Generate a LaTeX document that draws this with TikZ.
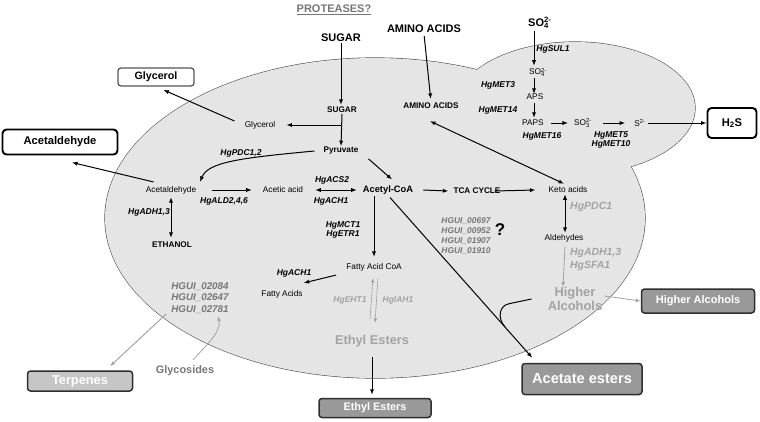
\documentclass[tikz,border=0pt]{standalone}
\usepackage{fontspec}
\setmainfont{Liberation Sans}
\usetikzlibrary{arrows.meta}
\definecolor{cellfill}{HTML}{E5E5E5}
\definecolor{celledge}{HTML}{555555}
\definecolor{lgray}{HTML}{A3A3A3}
\definecolor{mgray}{HTML}{777777}
\definecolor{boxgray}{HTML}{999999}
\definecolor{terpgray}{HTML}{C6C6C6}
\definecolor{boxedge}{HTML}{2E2E2E}
\newcommand{\fs}[1]{\fontsize{#1}{#1}\selectfont}
\begin{document}
\begin{tikzpicture}[x=1pt,y=-1pt,
  ar/.style={-{Latex[length=5.5pt,width=4.2pt]}, line width=1pt},
  dar/.style={{Latex[length=5.5pt,width=4.2pt]}-{Latex[length=5.5pt,width=4.2pt]}, line width=1pt},
  gar/.style={-{Latex[length=5pt,width=3.8pt]}, line width=0.8pt, draw=lgray},
  txt/.style={inner sep=1pt, font=\fs{8.3}},
  btxt/.style={inner sep=1pt, font=\fs{8.2}\bfseries},
  lab/.style={inner sep=1pt, font=\fontsize{8.5}{9.6}\selectfont\bfseries\itshape, align=center},
  glab/.style={lab, text=lgray},
  big/.style={inner sep=1pt, font=\fs{11}\bfseries},
  wbox/.style={draw=celledge, line width=1.3pt, fill=white, rounded corners=3pt, inner sep=0pt, font=\fs{10.7}\bfseries},
  kbox/.style={draw=black, line width=1.9pt, fill=white, rounded corners=4pt, inner sep=0pt, font=\fs{11.2}\bfseries},
  gbox/.style={draw=boxedge, line width=1.5pt, fill=boxgray, rounded corners=3pt, inner sep=0pt, text=white, font=\bfseries}
]
\useasboundingbox (0,0) rectangle (760,421);
% cell compartments
\draw[celledge, line width=1.2pt] (375,218) ellipse [x radius=270, y radius=160];
\draw[celledge, line width=1.2pt] (575,108) ellipse [x radius=120, y radius=66];
\fill[cellfill] (375,218) ellipse [x radius=270, y radius=160];
\fill[cellfill] (575,108) ellipse [x radius=120, y radius=66];

% top inputs
\node[inner sep=1pt, font=\fs{11}\bfseries, text=mgray] (prot) at (334,10) {\underline{PROTEASES?}};
\node[big] (sugarO) at (341,38) {SUGAR};
\node[big] (aaO) at (424,29) {AMINO ACIDS};
\node[big, anchor=west] (so4O) at (527,23) {SO\rlap{\textsubscript{4}}\textsuperscript{2-}};

% inner metabolites
\node[btxt] (sugarI) at (342,110) {SUGAR};
\node[txt] (glyI) at (260,125) {Glycerol};
\node[btxt] (pyr) at (341,151) {Pyruvate};
\node[txt] (acI) at (171,190) {Acetaldehyde};
\node[txt] (aca) at (283,190) {Acetic acid};
\node[inner sep=1pt, font=\fs{9.3}\bfseries] (acoa) at (388,190) {Acetyl-CoA};
\node[btxt] (eth) at (172,245) {ETHANOL};
\node[btxt] (tca) at (477,191) {TCA CYCLE};
\node[btxt] (aaI) at (431,106) {AMINO ACIDS};
\node[txt] (keto) at (568,190) {Keto acids};
\node[txt] (ald) at (564,238) {Aldehydes};
\node[txt] (facoa) at (374,267) {Fatty Acid CoA};
\node[txt] (fa) at (282,294) {Fatty Acids};
\node[inner sep=1pt, font=\fs{12.8}\bfseries, text=lgray] (eeI) at (372,341) {Ethyl Esters};
\node[inner sep=1pt, font=\fontsize{12.9}{14}\selectfont\bfseries, text=lgray, align=center] (haI) at (575,299) {Higher\\Alcohols};

% sulfur branch
\node[txt, anchor=west] (so4I) at (528,72) {SO\rlap{\textsubscript{4}}\textsuperscript{2-}};
\node[txt] (aps) at (535,97) {APS};
\node[txt] (paps) at (533,123) {PAPS};
\node[txt] (so3) at (583,123) {SO\rlap{\textsubscript{3}}\textsuperscript{2-}};
\node[txt] (s2) at (640,123) {S\textsuperscript{2-}};

% enzyme labels
\node[lab] (lsul) at (553,49) {HgSUL1};
\node[lab] (lmet3) at (498,85) {HgMET3};
\node[lab] (lmet14) at (498,110) {HgMET14};
\node[lab] (lmet16) at (542,136) {HgMET16};
\node[lab] (lmet5) at (611,140) {HgMET5\\HgMET10};
\node[lab] (lpdc) at (241,153) {HgPDC1,2};
\node[lab] (lald) at (224,201) {HgALD2,4,6};
\node[lab] (lacs) at (332,180) {HgACS2};
\node[lab] (lach) at (331,201) {HgACH1};
\node[lab] (ladh) at (149,212) {HgADH1,3};
\node[lab] (lmct) at (343,230) {HgMCT1\\HgETR1};
\node[lab] (lach2) at (294,273) {HgACH1};
\node[glab] (leht) at (350,300) {HgEHT1};
\node[glab] (liah) at (398,300) {HgIAH1};
\node[glab, font=\fs{10.5}\bfseries\itshape, anchor=west] (lpdc1) at (569,207) {HgPDC1};
\node[glab, font=\fontsize{10.4}{13}\selectfont\bfseries\itshape, anchor=west, align=left] (ladh2) at (569,259.5) {HgADH1,3\\HgSFA1};
\node[lab, text=mgray, font=\fontsize{8.4}{10}\selectfont\bfseries\itshape] (hgui1) at (466,236) {HGUI\_00697\\HGUI\_00952\\HGUI\_01907\\HGUI\_01910};
\node[inner sep=0pt, font=\fs{17}\bfseries] (qm) at (500,230) {?};
\node[lab, text=mgray, font=\fontsize{9.8}{11.8}\selectfont\bfseries\itshape] (hgui2) at (200,298) {HGUI\_02084\\HGUI\_02647\\HGUI\_02781};
\node[inner sep=1pt, font=\fs{10.9}\bfseries, text=mgray] (glyc) at (185,371) {Glycosides};

% output boxes
\node[wbox, minimum width=76pt, minimum height=18pt] (glyO) at (156,77) {Glycerol};
\node[kbox, minimum width=115pt, minimum height=25pt] (acbox) at (60,142) {Acetaldehyde};
\node[kbox, minimum width=49pt, minimum height=30pt] (h2s) at (732,123) {H\textsubscript{2}S};
\node[gbox, minimum width=112pt, minimum height=19pt, font=\fs{10.9}\bfseries] (eeO) at (375,408) {Ethyl Esters};
\node[gbox, minimum width=120pt, minimum height=31pt, font=\fs{14.6}\bfseries] (acetO) at (582,379) {Acetate esters};
\node[gbox, minimum width=113pt, minimum height=24pt, font=\fs{11}\bfseries] (haO) at (698,301) {Higher Alcohols};
\node[gbox, fill=terpgray, minimum width=105pt, minimum height=20pt, font=\fs{12.8}\bfseries] (terp) at (80,381) {Terpenes};

% connectors: carbon metabolism
\draw[ar] (sugarO.south) -- ([yshift=1pt]sugarI.north -| sugarO.south);
\coordinate (br) at (sugarI.south |- glyI.east);
\draw[ar] (sugarI.south) -- (pyr.north);
\draw[ar] (br) -- ([xshift=10pt]glyI.east);
\draw[ar, shorten <=10pt, shorten >=8pt] (glyI.west) -- (glyO.south);
\draw[ar] ([shift={(9,-8)}]acI.west) -- ([shift={(12,7)}]acbox.south);
\draw[ar] ([xshift=-8pt]pyr.west) .. controls (240,158) and (208,162) .. ([shift={(29,-3)}]acI.north);
\draw[ar] ([xshift=15pt]acI.east) -- ([xshift=-10pt]aca.west);
\draw[dar] ([xshift=11pt]aca.east) -- ([xshift=-5pt]acoa.west);
\draw[ar] ([shift={(9,3)}]pyr.south east) -- ([shift={(4,-5)}]acoa.north);
\draw[dar] ([yshift=-2pt]acI.south) -- ([yshift=3pt]acI.south |- eth.north);
\draw[ar, shorten >=5pt] (facoa.north |- acoa.south) -- (facoa.north);
\draw[ar] ([shift={(-9,3)}]facoa.south west) -- ([shift={(0,-6)}]fa.north east);
\draw[gar, line width=0.6pt, -{Latex[length=4.5pt,width=3.4pt]}] ([shift={(-2,-15)}]eeI.north) -- ([shift={(-1,6)}]facoa.south);
\draw[gar, line width=0.6pt, -{Latex[length=4.5pt,width=3.4pt]}] ([shift={(4,6)}]facoa.south) -- ([shift={(3,-11)}]eeI.north);
\draw[ar, shorten >=3pt] ([yshift=-9pt]eeI.south) -- (eeI.south |- eeO.north);
\draw[ar] ([xshift=9pt]acoa.east) -- ([xshift=-4pt]tca.west);
\draw[ar] ([xshift=-7pt]tca.east) -- ([xshift=-12pt]keto.west);
\draw[dar] ([shift={(-4,-2)}]keto.north) -- ([shift={(-1,11)}]aaI.south);
\draw[ar, shorten <=2pt, shorten >=3pt] (aaO.south) -- (aaI.north);
\draw[dar] ([xshift=-3pt]keto.south) -- ([xshift=1pt]ald.north);
\draw[gar] ([xshift=1pt, yshift=-3pt]ald.south) -- ([xshift=-12pt,yshift=-1pt]haI.north);
\draw[gar] ([shift={(1,-3)}]haI.east) -- (haO.west);
\draw[ar] ([shift={(2,2)}]acoa.south) -- ([shift={(11,-5)}]acetO.north west);
\draw[line width=1pt] ([xshift=-15pt]haI.west) -- (510,303.5) .. controls (499,305) and (497,318) .. (505,327);

% sulfur connectors
\draw[ar] ([xshift=7pt,yshift=-1pt]so4O.south west) -- ([xshift=6pt,yshift=1pt]so4I.north west);
\draw[ar] ([xshift=6pt,yshift=-1pt]so4I.south west) -- ([xshift=-1pt,yshift=-1pt]aps.north);
\draw[ar] ([xshift=-1pt,yshift=-2pt]aps.south) -- ([xshift=1pt,yshift=1pt]paps.north);
\draw[ar] ([xshift=6pt]paps.east) -- ([xshift=-5pt]so3.west);
\draw[ar] ([xshift=10pt]so3.east) -- ([xshift=-8pt]s2.west);
\draw[ar] ([xshift=1pt]s2.east) -- (h2s.west);

% aroma branch
\draw[gar, line width=1pt] ([shift={(-4,-1)}]hgui2.south west) -- ([shift={(30,-4)}]terp.north);
\draw[gar] ([shift={(8,-5)}]glyc.north) .. controls (212,340) and (221,330) .. ([shift={(18,1)}]hgui2.south);
\end{tikzpicture}
\end{document}
